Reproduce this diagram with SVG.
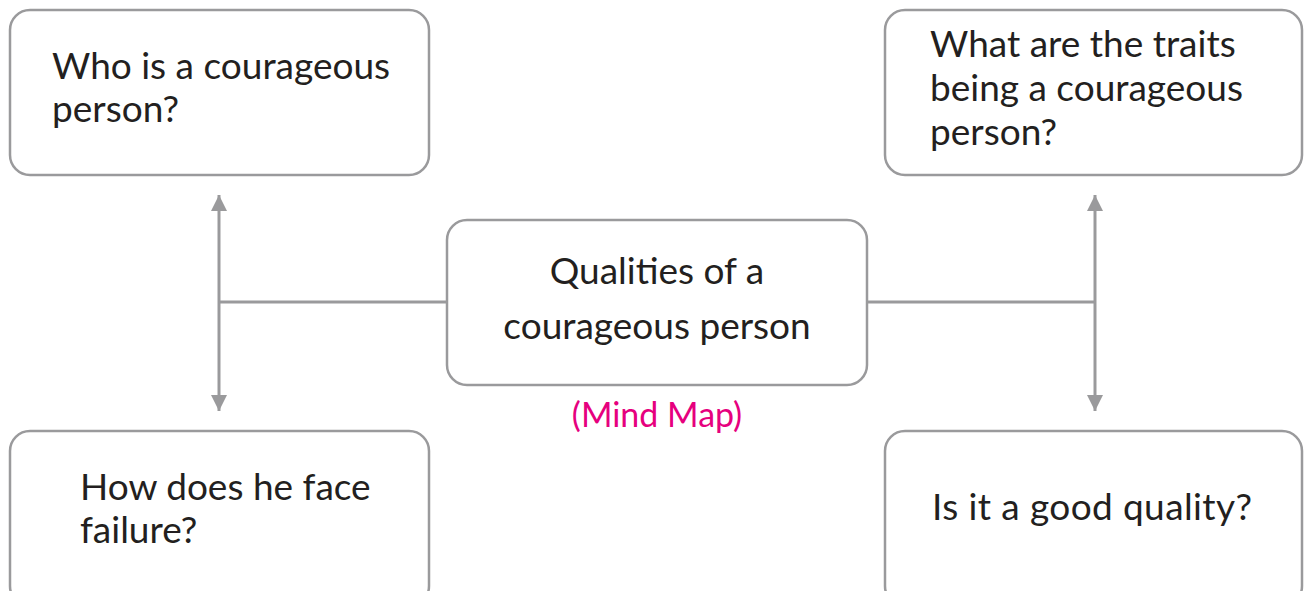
<svg xmlns="http://www.w3.org/2000/svg" width="1304" height="591" viewBox="0 0 1304 591">
<style>
.box{fill:#fff;stroke:#9a9a9c;stroke-width:2.5}
.t{font-family:Lato,"Open Sans","Liberation Sans",sans-serif;font-size:37px;fill:#231f20}
.c{text-anchor:middle}
.m{font-family:Lato,"Open Sans","Liberation Sans",sans-serif;font-size:34px;fill:#e6007e;text-anchor:middle}
.ln{stroke:#9a9a9c;stroke-width:3;fill:none}
</style>
<defs>
<marker id="ah" viewBox="0 0 16 18" refX="16" refY="9" markerWidth="16" markerHeight="18" markerUnits="userSpaceOnUse" orient="auto-start-reverse">
<path d="M0,1 L16,9 L0,17 Z" fill="#9a9a9c"/>
</marker>
</defs>
<g id="connectors">
<line class="ln" x1="219" y1="195" x2="219" y2="411" marker-start="url(#ah)" marker-end="url(#ah)"/>
<line class="ln" x1="219" y1="302" x2="447" y2="302"/>
<line class="ln" x1="1095" y1="195" x2="1095" y2="411" marker-start="url(#ah)" marker-end="url(#ah)"/>
<line class="ln" x1="867" y1="302" x2="1095" y2="302"/>
</g>
<g id="n-who">
<rect class="box" x="10" y="10" width="419" height="165" rx="20"/>
<text class="t" x="52" y="79">Who is a courageous</text>
<text class="t" x="52" y="122">person?</text>
</g>
<g id="n-traits">
<rect class="box" x="885" y="10" width="417" height="165" rx="20"/>
<text class="t" x="930" y="57">What are the traits</text>
<text class="t" x="930" y="101">being a courageous</text>
<text class="t" x="930" y="145">person?</text>
</g>
<g id="n-center">
<rect class="box" x="447" y="220" width="420" height="165" rx="20"/>
<text class="t c" x="657" y="284">Qualities of a</text>
<text class="t c" x="657" y="339">courageous person</text>
<text class="m" x="657" y="427">(Mind Map)</text>
</g>
<g id="n-failure">
<rect class="box" x="10" y="431" width="419" height="175" rx="20"/>
<text class="t" x="80" y="500">How does he face</text>
<text class="t" x="80" y="543">failure?</text>
</g>
<g id="n-quality">
<rect class="box" x="885" y="431" width="417" height="175" rx="20"/>
<text class="t" x="932" y="520" textLength="320">Is it a good quality?</text>
</g>
</svg>
